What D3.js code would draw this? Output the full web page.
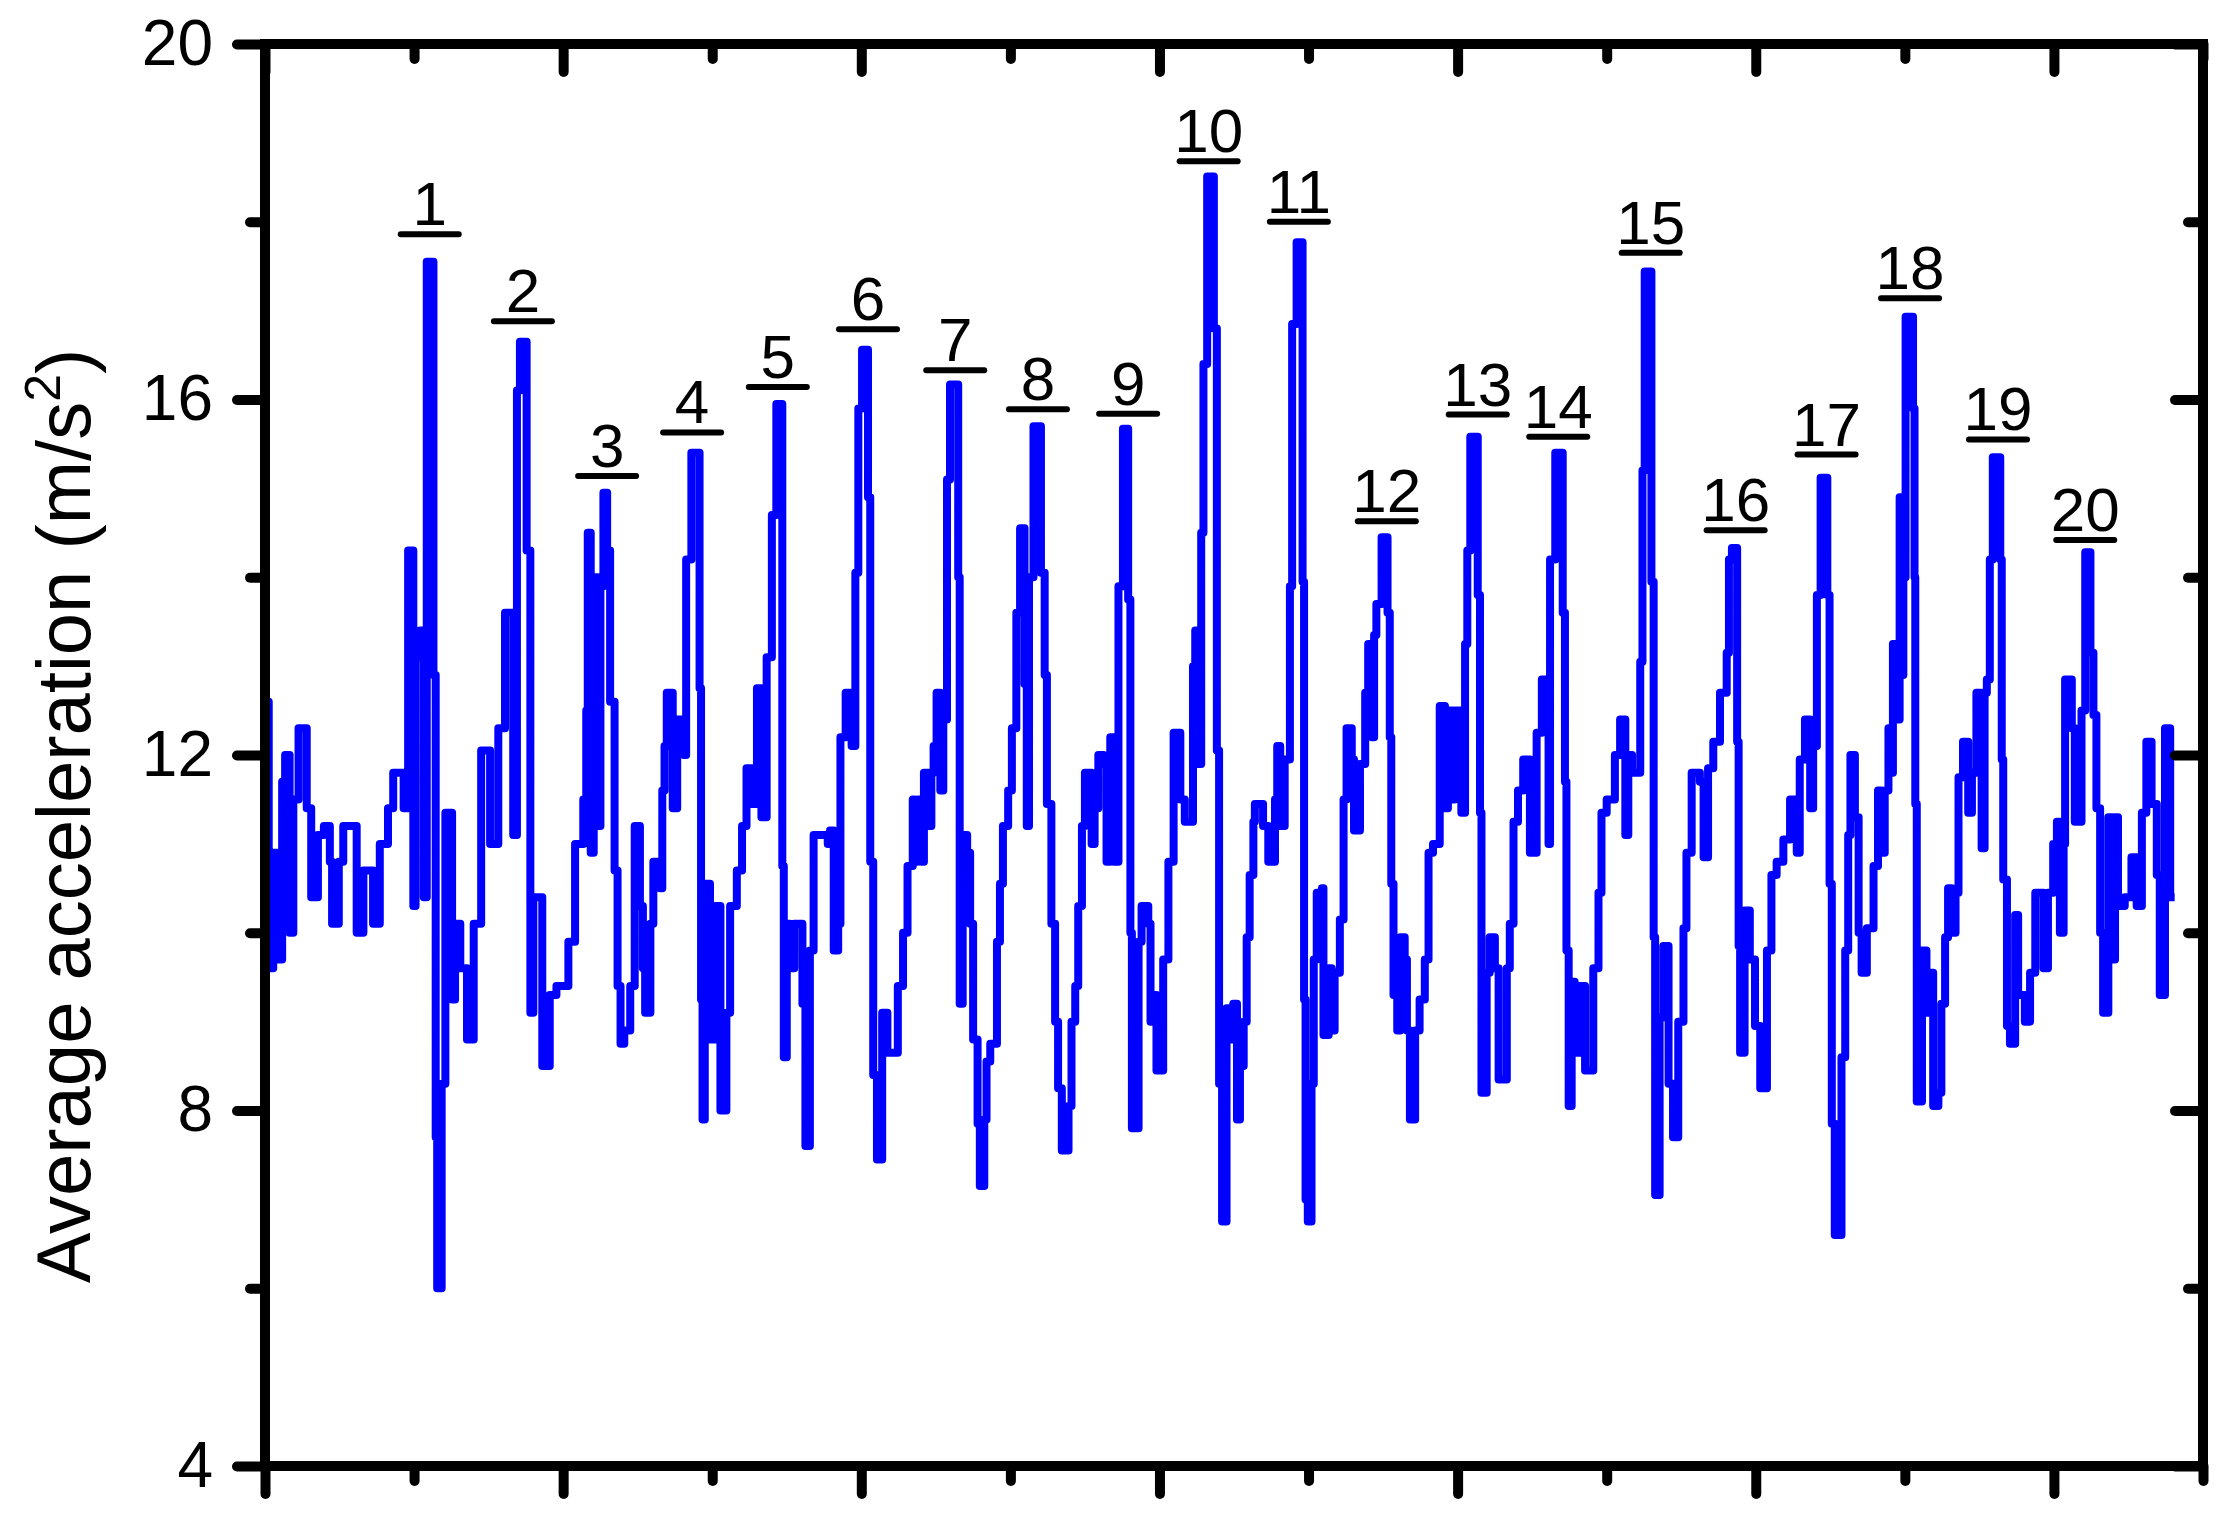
<!DOCTYPE html>
<html><head><meta charset="utf-8">
<script src="https://cdn.jsdelivr.net/npm/d3@7"></script>
<style>body{margin:0;background:#fff} text{font-family:"Liberation Sans",Arial,sans-serif}</style>
</head><body><svg id="c" width="2228" height="1530"></svg>
<script>
// time (s) of each sample (step-hold signal)
const time = [
0.00,0.05,0.11,0.16,0.23,0.27,0.33,0.38,0.45,0.56,
0.62,0.71,0.79,0.87,0.90,0.99,1.05,1.23,1.32,1.45,
1.54,1.65,1.72,1.86,1.92,1.99,2.02,2.08,2.13,2.17,
2.26,2.29,2.31,2.37,2.42,2.51,2.55,2.62,2.71,2.80,
2.90,3.02,3.13,3.22,3.33,3.38,3.42,3.51,3.56,3.60,
3.72,3.82,3.91,4.07,4.16,4.27,4.31,4.33,
4.37,4.41,4.46,4.50,4.54,4.59,4.63,4.69,4.73,4.77,
4.82,4.90,4.96,5.03,5.07,5.10,5.17,5.21,5.30,5.33,
5.36,5.39,5.47,5.53,5.62,5.65,5.72,5.83,5.85,5.87,
5.90,5.97,6.04,6.11,6.19,6.24,6.33,6.40,6.46,6.53,
6.60,6.66,6.73,6.80,6.86,6.94,6.96,7.00,7.04,7.10,
7.21,7.25,7.31,7.36,7.55,7.58,7.63,7.69,7.72,7.79,
7.87,7.92,7.96,8.01,8.09,8.12,8.16,8.21,8.28,8.35,
8.49,8.56,8.62,8.69,
8.72,8.76,8.81,8.84,8.90,8.94,8.97,9.01,9.06,9.10,
9.15,9.19,9.30,9.32,9.36,9.42,9.46,9.50,9.56,9.59,
9.65,9.68,9.73,9.82,9.86,9.90,9.97,10.02,10.08,10.13,
10.19,10.22,10.25,10.31,10.41,10.46,10.49,10.55,10.60,10.64,
10.69,10.78,10.82,10.87,10.91,10.96,11.00,11.09,11.13,11.18,
11.25,11.29,11.34,11.39,11.45,11.51,11.58,11.61,11.63,11.72,
11.76,11.85,11.88,11.92,11.96,12.05,12.12,12.19,12.28,12.34,
12.45,12.48,12.52,12.56,12.59,12.64,12.73,12.77,12.80,12.84,
12.90,12.95,12.99,13.04,
13.08,13.13,13.17,13.21,13.26,13.28,13.39,13.46,13.55,13.58,
13.62,13.68,13.75,13.78,13.84,13.92,13.94,13.96,13.99,14.04,
14.07,14.11,14.18,14.20,14.27,14.31,14.35,14.42,14.47,14.51,
14.58,14.61,14.69,14.76,14.80,14.85,14.88,14.91,14.98,15.06,
15.09,15.11,15.14,15.19,15.23,15.29,15.32,15.36,15.43,15.49,
15.56,15.61,15.67,15.76,15.83,15.87,15.93,15.96,16.05,16.10,
16.13,16.17,16.27,16.30,16.32,16.39,16.43,16.50,16.55,16.66,
16.70,16.75,16.81,16.88,16.97,17.06,17.13,17.22,17.24,17.31,
17.41,17.44,17.46,17.49,17.53,17.57,17.64,17.71,17.82,17.89,
17.93,18.00,18.11,18.18,18.25,18.29,18.34,18.45,18.48,18.51,
18.60,18.63,18.65,18.71,18.76,18.83,18.89,18.96,19.03,19.07,
19.14,19.25,19.30,19.36,19.43,19.52,19.61,19.64,19.68,19.75,
19.77,19.79,19.85,19.92,19.99,20.06,20.15,20.21,20.28,20.37,
20.46,20.55,20.59,20.66,20.73,20.77,20.82,20.87,20.96,20.99,
21.02,21.06,21.15,21.20,21.24,21.27,21.33,21.38,21.42,21.49,
21.58,21.64,21.69,
21.73,21.78,21.82,21.84,21.90,21.93,21.96,21.98,22.01,22.11,
22.13,22.14,22.16,22.23,22.29,22.34,22.38,22.45,22.49,22.54,
22.58,22.63,22.68,22.72,22.78,22.85,22.90,22.96,23.03,23.07,
23.10,23.14,23.18,23.28,23.30,23.32,23.37,23.41,23.48,23.52,
23.61,23.68,23.75,23.86,23.92,23.99,24.04,24.08,24.13,24.15,
24.24,24.28,24.37,24.42,24.49,24.53,24.57,24.62,24.66,24.73,
24.77,24.82,24.86,24.95,25.04,25.11,25.18,25.24,25.31,25.38,
25.42,25.49,25.56,25.62
];
// average acceleration (m/s^2) at each sample
const accel = [
12.6,9.6,10.9,9.7,11.7,12.0,10.0,11.5,12.3,11.4,
10.4,11.1,11.2,10.8,10.1,10.8,11.2,10.0,10.7,10.1,
11.0,11.4,11.8,11.4,14.3,10.3,13.1,13.4,10.4,17.55,
12.9,7.7,6.0,8.3,11.35,9.25,10.1,9.6,8.8,10.1,
12.05,11.0,12.3,13.6,11.1,16.1,16.65,14.3,9.1,10.4,
8.5,9.3,9.4,9.9,11.0,11.5,12.5,14.5,
10.9,14.0,11.2,13.9,14.95,14.3,12.6,10.7,9.4,8.75,
8.9,9.4,11.2,10.3,9.6,9.1,10.1,10.8,10.5,11.6,
12.1,12.7,11.4,12.4,12.0,14.2,15.4,12.75,9.25,7.9,
10.55,8.8,10.3,8.0,9.1,10.3,10.7,11.2,11.85,11.45,
12.75,11.3,13.1,14.7,15.95,10.75,8.6,10.1,9.6,10.1,
9.2,7.6,9.8,11.1,11.0,11.15,9.8,10.1,12.2,12.7,
12.1,14.05,15.9,16.56,14.9,10.8,8.4,7.45,9.1,8.65,
9.4,10.0,10.75,11.5,
10.8,11.5,10.8,11.8,11.2,11.8,12.1,12.7,11.6,12.4,
15.1,16.17,14.0,9.2,11.1,10.9,10.1,8.8,7.85,7.15,
7.9,8.55,8.75,9.9,10.55,11.2,11.6,12.3,13.6,14.55,
12.8,11.2,14.0,15.7,14.05,12.9,11.45,10.1,9.0,8.25,
7.55,8.05,9.0,9.4,10.3,11.2,11.8,11.0,11.4,12.0,
11.9,10.8,12.2,10.8,13.9,15.67,13.75,10.0,7.8,9.9,
10.3,10.1,9.0,9.3,8.45,9.7,10.8,12.25,11.5,11.25,
13.0,13.4,11.9,14.5,16.4,18.51,16.8,12.05,8.3,6.75,
9.15,8.8,9.2,7.9,
8.5,9.0,9.95,10.65,11.25,11.45,11.2,10.8,11.5,12.1,
11.2,11.95,13.9,16.85,17.77,13.95,9.25,7.0,6.75,8.3,
9.7,10.45,10.5,8.85,9.6,8.9,9.55,10.15,11.5,12.3,
11.95,11.15,11.9,12.7,13.25,12.2,13.35,13.7,14.45,13.6,
12.2,10.55,9.3,8.9,9.95,9.7,8.9,7.9,8.9,9.25,
9.7,10.9,11.0,12.55,11.4,12.5,11.5,12.5,11.35,13.25,
14.3,15.58,13.8,11.35,8.2,9.55,9.95,9.6,8.35,9.6,
10.1,11.25,11.6,11.95,10.9,12.25,12.85,11.0,14.2,15.4,
13.6,11.7,9.8,8.05,9.45,8.65,9.4,8.45,9.6,10.45,
11.35,11.5,12.0,12.4,11.1,12.0,11.8,13.05,15.2,17.44,
13.95,9.95,7.05,9.05,9.85,8.3,7.7,9.0,10.05,10.9,
11.8,11.7,10.85,11.85,12.15,12.7,13.15,14.2,14.33,12.15,
9.85,8.65,10.25,9.7,8.95,8.25,9.8,10.65,10.8,11.05,
11.5,10.9,11.95,12.4,11.4,12.1,13.8,15.12,13.8,10.55,
7.85,6.6,8.6,9.8,11.1,12.0,11.3,10.0,9.55,10.05,
10.75,11.6,10.9,
11.6,12.3,11.8,13.25,12.4,14.9,12.9,14.0,16.93,15.9,
14.0,11.45,8.1,9.8,9.1,9.55,8.05,8.2,9.2,9.95,
10.5,10.0,10.45,11.75,12.15,11.35,11.8,12.7,10.95,12.7,
12.85,14.2,15.35,14.2,11.95,10.6,8.95,8.75,10.2,9.3,
9.0,9.55,10.45,9.6,10.45,11.0,11.25,10.0,11.0,12.85,
12.3,11.25,12.5,14.28,13.15,12.45,11.4,10.0,9.1,11.3,
9.7,11.3,10.3,10.4,10.85,10.3,11.35,12.15,11.45,10.65,
9.3,12.3,10.4,10.4
];
const peakLabels = ["1","2","3","4","5","6","7","8","9","10","11","12","13","14","15","16","17","18","19","20"];
const peakTimes = [2.21,3.46,4.59,5.73,6.88,8.09,9.26,10.37,11.58,12.66,13.87,15.05,16.27,17.35,18.59,19.73,20.95,22.07,23.25,24.42];
const labelLevels = [17.86,16.88,15.14,15.63,16.14,16.79,16.33,15.89,15.84,18.68,18.0,14.63,15.83,15.58,17.65,14.53,15.38,17.14,15.55,14.42];
const yMajorTicks = [4,8,12,16,20];
const yMinorTicks = [6,10,14,18];
const xMajorTicks = [0,4,8,12,16,20,24];
const xMinorTicks = [2,6,10,14,18,22,26];
const yTitle = "Average acceleration (m/s";

const svg = d3.select("#c");
const L = 265, R = 2203, T = 44, B = 1466;
const x = d3.scaleLinear().domain([0, 26]).range([L, R]);
const y = d3.scaleLinear().domain([4, 20]).range([B, T]);

const n = Math.min(time.length, accel.length);
if (time.length !== accel.length) console.error("length mismatch", time.length, accel.length);
const idx = d3.range(n);

const line = d3.line().x(i => x(time[i])).y(i => y(accel[i])).curve(d3.curveStepAfter);
svg.append("path").attr("d", line(idx)).attr("fill", "none")
  .attr("stroke", "#0000ff").attr("stroke-width", 8).attr("stroke-linejoin", "round");

function styleAxis(g, fs) {
  g.select(".domain").remove();
  g.selectAll(".tick line").attr("stroke", "#000").attr("stroke-width", 10).attr("stroke-linecap", "round");
  g.selectAll(".tick text").attr("font-size", fs).attr("fill", "#000")
    .attr("font-family", '"Liberation Sans", Arial, sans-serif');
}
const noLab = () => "";
svg.append("g").attr("transform", `translate(${L},0)`)
  .call(d3.axisLeft(y).tickValues(yMajorTicks).tickSize(28).tickPadding(24).tickFormat(d3.format("d"))).call(g => styleAxis(g, 64));
svg.append("g").attr("transform", `translate(${L},0)`)
  .call(d3.axisLeft(y).tickValues(yMinorTicks).tickSize(15).tickFormat(noLab)).call(g => styleAxis(g, 64));
svg.append("g").attr("transform", `translate(${R},0)`)
  .call(d3.axisRight(y).tickValues(yMajorTicks).tickSize(-28).tickFormat(noLab)).call(g => styleAxis(g, 64));
svg.append("g").attr("transform", `translate(${R},0)`)
  .call(d3.axisRight(y).tickValues(yMinorTicks).tickSize(-15).tickFormat(noLab)).call(g => styleAxis(g, 64));
svg.append("g").attr("transform", `translate(0,${B})`)
  .call(d3.axisBottom(x).tickValues(xMajorTicks).tickSize(28).tickFormat(noLab)).call(g => styleAxis(g, 64));
svg.append("g").attr("transform", `translate(0,${B})`)
  .call(d3.axisBottom(x).tickValues(xMinorTicks).tickSize(15).tickFormat(noLab)).call(g => styleAxis(g, 64));
svg.append("g").attr("transform", `translate(0,${T})`)
  .call(d3.axisTop(x).tickValues(xMajorTicks).tickSize(-28).tickFormat(noLab)).call(g => styleAxis(g, 64));
svg.append("g").attr("transform", `translate(0,${T})`)
  .call(d3.axisTop(x).tickValues(xMinorTicks).tickSize(-15).tickFormat(noLab)).call(g => styleAxis(g, 64));

svg.append("rect").attr("x", L).attr("y", T).attr("width", R - L).attr("height", B - T)
  .attr("fill", "none").attr("stroke", "#000").attr("stroke-width", 10);

// peak labels with bars
const lab = svg.append("g");
peakLabels.forEach((s, i) => {
  const cx = x(peakTimes[i]), cy = y(labelLevels[i]);
  lab.append("line").attr("x1", cx - 29).attr("x2", cx + 29).attr("y1", cy).attr("y2", cy)
    .attr("stroke", "#000").attr("stroke-width", 6).attr("stroke-linecap", "round");
  lab.append("text").attr("x", cx).attr("y", cy - 9).attr("text-anchor", "middle")
    .attr("font-size", 62).attr("fill", "#000").text(s);
});

// y title
const tt = svg.append("text").attr("transform", "translate(90,816) rotate(-90)")
  .attr("text-anchor", "middle").attr("font-size", 76).attr("fill", "#000");
tt.append("tspan").text(yTitle);
tt.append("tspan").attr("font-size", 50).attr("dy", -30).text("2");
tt.append("tspan").attr("dy", 30).text(")");
</script></body></html>
